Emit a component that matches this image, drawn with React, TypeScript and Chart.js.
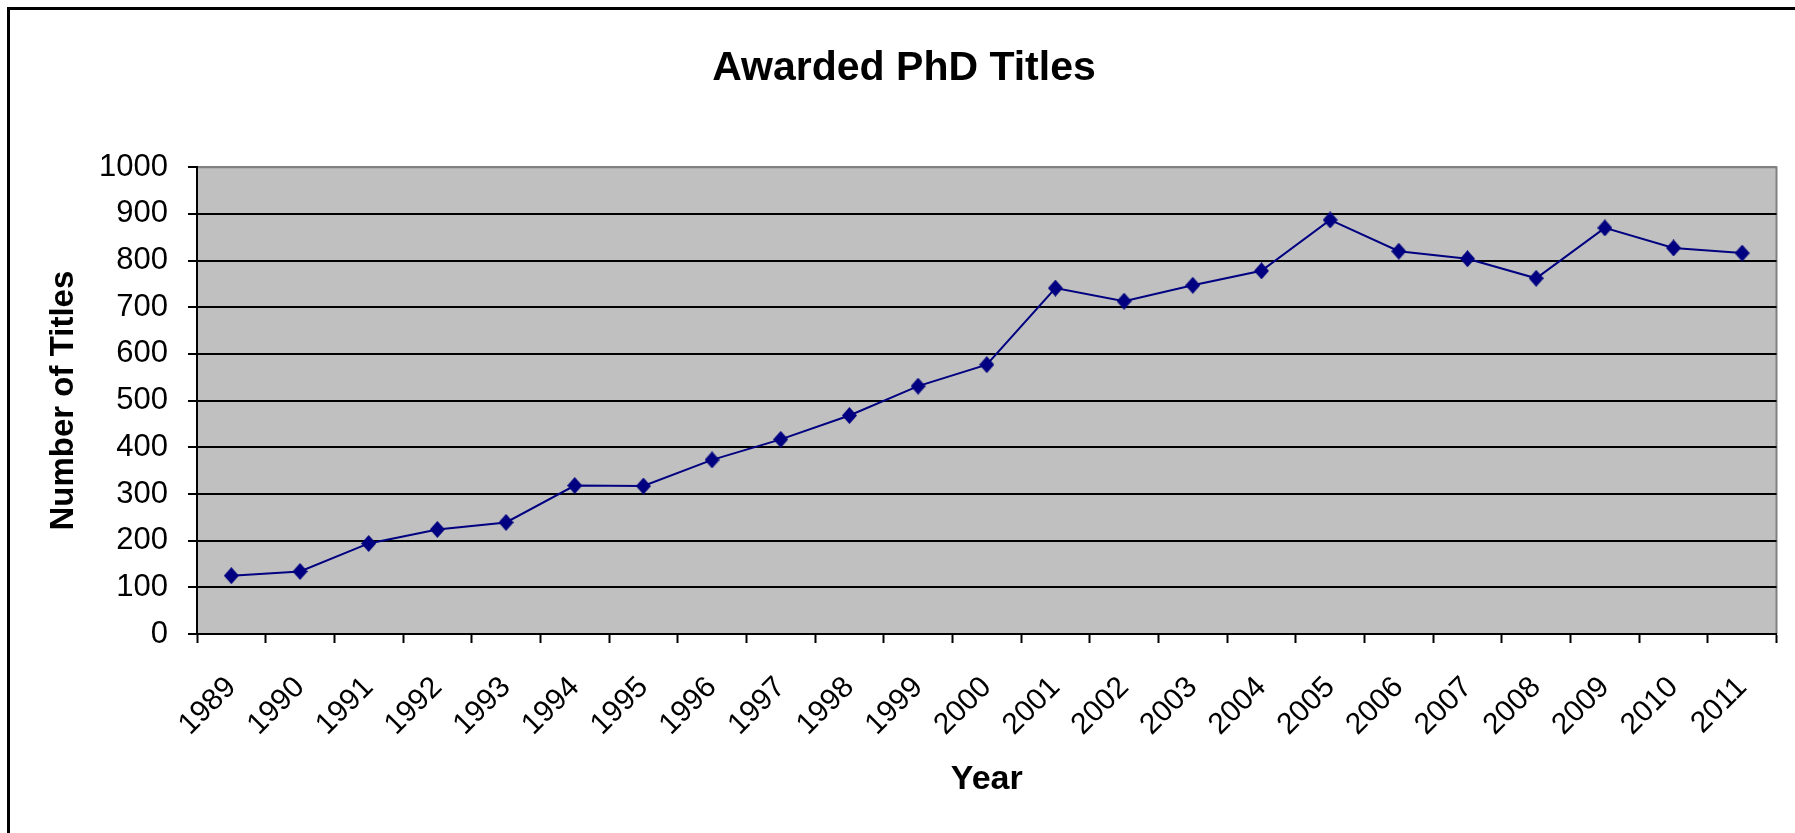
import React, { useEffect, useRef } from 'react';
import { Chart, registerables } from 'chart.js';

Chart.register(...registerables);

const years = ['1989', '1990', '1991', '1992', '1993', '1994', '1995', '1996', '1997', '1998', '1999', '2000', '2001', '2002', '2003', '2004', '2005', '2006', '2007', '2008', '2009', '2010', '2011'];
const phdTitles = [125, 134, 194, 224, 239, 318, 317, 373, 417, 468, 531, 577, 741, 713, 747, 778, 887, 820, 804, 762, 870, 827, 816];
const yMin = 0;
const yMax = 1000;
const yStep = 100;

const FONT = "'Liberation Sans', Arial, sans-serif";
const NAVY = '#000080';

function makeDiamond(w: number, h: number, color: string) {
  const c = document.createElement('canvas');
  c.width = w;
  c.height = h;
  const g = c.getContext('2d')!;
  g.fillStyle = color;
  g.beginPath();
  g.moveTo(w / 2, 0);
  g.lineTo(w, h / 2);
  g.lineTo(w / 2, h);
  g.lineTo(0, h / 2);
  g.closePath();
  g.fill();
  return c;
}

const plotBg = {
  id: 'plotBg',
  beforeDraw(chart: any) {
    const { ctx, chartArea } = chart;
    const { left, top, right, bottom } = chartArea;
    ctx.save();
    ctx.fillStyle = '#C0C0C0';
    ctx.fillRect(left, top, right - left, bottom - top);
    ctx.strokeStyle = '#808080';
    ctx.lineWidth = 2;
    ctx.beginPath();
    ctx.moveTo(left, top);
    ctx.lineTo(right, top);
    ctx.lineTo(right, bottom);
    ctx.stroke();
    ctx.restore();
  },
  afterDraw(chart: any) {
    const { ctx } = chart;
    ctx.save();
    ctx.strokeStyle = '#000';
    ctx.lineWidth = 3;
    ctx.strokeRect(8.5, 8.5, 1800, 900);
    ctx.restore();
  },
};

export default function App() {
  const ref = useRef<HTMLCanvasElement | null>(null);
  useEffect(() => {
    if (!ref.current) return;
    const diamond = makeDiamond(15, 17, NAVY);
    const chart = new Chart(ref.current, {
      type: 'line',
      data: {
        labels: years,
        datasets: [
          {
            label: 'Awarded PhD Titles',
            data: phdTitles,
            borderColor: NAVY,
            backgroundColor: NAVY,
            borderWidth: 2,
            pointStyle: diamond as any,
            pointRadius: 8,
            fill: false,
            tension: 0,
          },
        ],
      },
      plugins: [plotBg],
      options: {
        responsive: false,
        animation: false,
        devicePixelRatio: 1,
        layout: { padding: { left: 30, right: 17, top: 0, bottom: 0 } },
        plugins: {
          legend: { display: false },
          tooltip: { enabled: false },
          title: {
            display: true,
            text: 'Awarded PhD Titles',
            color: '#000',
            font: { family: FONT, size: 41, weight: 'bold' },
            padding: { top: 44, bottom: 74 },
          },
        },
        scales: {
          x: {
            type: 'category',
            offset: true,
            afterFit: (scale: any) => {
              scale.height = 199;
            },
            grid: {
              offset: true,
              drawOnChartArea: false,
              drawTicks: true,
              tickLength: 9,
              tickColor: '#000',
              tickWidth: 2,
            },
            border: { color: '#000', width: 2 },
            ticks: {
              autoSkip: false,
              minRotation: 45,
              maxRotation: 45,
              padding: 27,
              labelOffset: 0,
              color: '#000',
              font: { family: FONT, size: 30 },
            },
            title: {
              display: true,
              text: 'Year',
              color: '#000',
              font: { family: FONT, size: 34, weight: 'bold' },
              padding: { top: 0, bottom: 33 },
            },
          },
          y: {
            min: yMin,
            max: yMax,
            afterFit: (scale: any) => {
              scale.width = 167;
            },
            grid: {
              color: (c: any) => (c.tick && c.tick.value === yMax ? '#808080' : '#000'),
              lineWidth: 2,
              tickLength: 9,
              tickColor: '#000',
              tickWidth: 2,
            },
            border: { color: '#000', width: 2 },
            ticks: {
              stepSize: yStep,
              padding: 20,
              color: '#000',
              font: { family: FONT, size: 31 },
              callback: (v: any) => String(v),
            },
            title: {
              display: true,
              text: 'Number of Titles',
              color: '#000',
              font: { family: FONT, size: 33, weight: 'bold' },
              padding: { top: 14, bottom: 0 },
            },
          },
        },
      },
    });
    return () => chart.destroy();
  }, []);
  return (
    <canvas
      ref={ref}
      width={1795}
      height={833}
      style={{ position: 'fixed', left: 0, top: 0, width: 1795, height: 833 }}
    />
  );
}
